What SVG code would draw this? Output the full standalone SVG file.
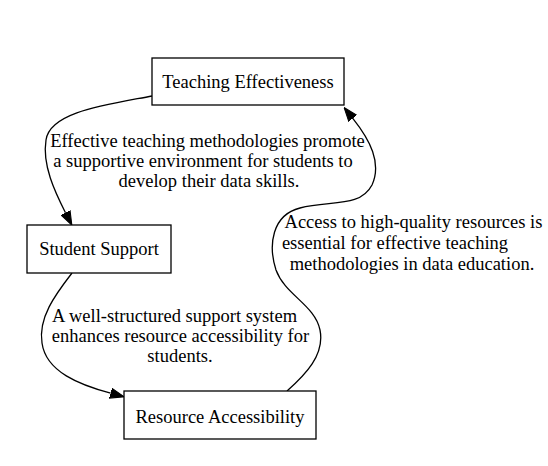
<svg xmlns="http://www.w3.org/2000/svg" width="548" height="466" viewBox="0 0 548 466">
<style>
.box{fill:#fff;stroke:#000;stroke-width:1.3}
.t{font-family:"Liberation Serif","Times New Roman",serif;font-size:18.5px;fill:#000;text-anchor:middle}
.e{fill:none;stroke:#000;stroke-width:1.3}
</style>
<defs>
<marker id="ah" markerUnits="userSpaceOnUse" markerWidth="14" markerHeight="11" viewBox="0 0 13 9.4" refX="0" refY="4.7" orient="auto">
<path d="M0,0 L13,4.7 L0,9.4 z" fill="#000" stroke="#000" stroke-width="1"/>
</marker>
</defs>
<rect width="548" height="466" fill="#fff"/>
<g id="connectors">
<g id="e1">
<path class="e" d="M152,96 C105,105 50,112 46,140 C42,165 55,192 65.5,212.7" marker-end="url(#ah)"/>
<text class="t" x="207.5" y="147">Effective teaching methodologies promote</text>
<text class="t" x="203" y="167">a supportive environment for students to</text>
<text class="t" x="209" y="187">develop their data skills.</text>
</g>
<g id="e2">
<path class="e" d="M72,273 C55,295 38,318 42,343 C46,372 80,385 110.6,393.2" marker-end="url(#ah)"/>
<text class="t" x="174.5" y="322">A well-structured support system</text>
<text class="t" x="180.5" y="342">enhances resource accessibility for</text>
<text class="t" x="180" y="362">students.</text>
</g>
<g id="e3">
<path class="e" d="M287,391 C305,375 325,355 320,330 C315,305 285,295 276,270 C268,245 272,215 300,208 C330,200 360,208 372,185 C382,163 370,140 352.8,118.4" marker-end="url(#ah)"/>
<text class="t" x="413.5" y="228">Access to high-quality resources is</text>
<text class="t" x="395" y="249">essential for effective teaching</text>
<text class="t" x="412" y="270">methodologies in data education.</text>
</g>
</g>
<g id="teaching">
<rect class="box" x="152" y="58" width="192" height="47"/>
<text class="t" x="248" y="88">Teaching Effectiveness</text>
</g>
<g id="student">
<rect class="box" x="27" y="225" width="144" height="48"/>
<text class="t" x="99" y="255">Student Support</text>
</g>
<g id="resource">
<rect class="box" x="124" y="391" width="192" height="48"/>
<text class="t" x="220" y="423">Resource Accessibility</text>
</g>
</svg>
